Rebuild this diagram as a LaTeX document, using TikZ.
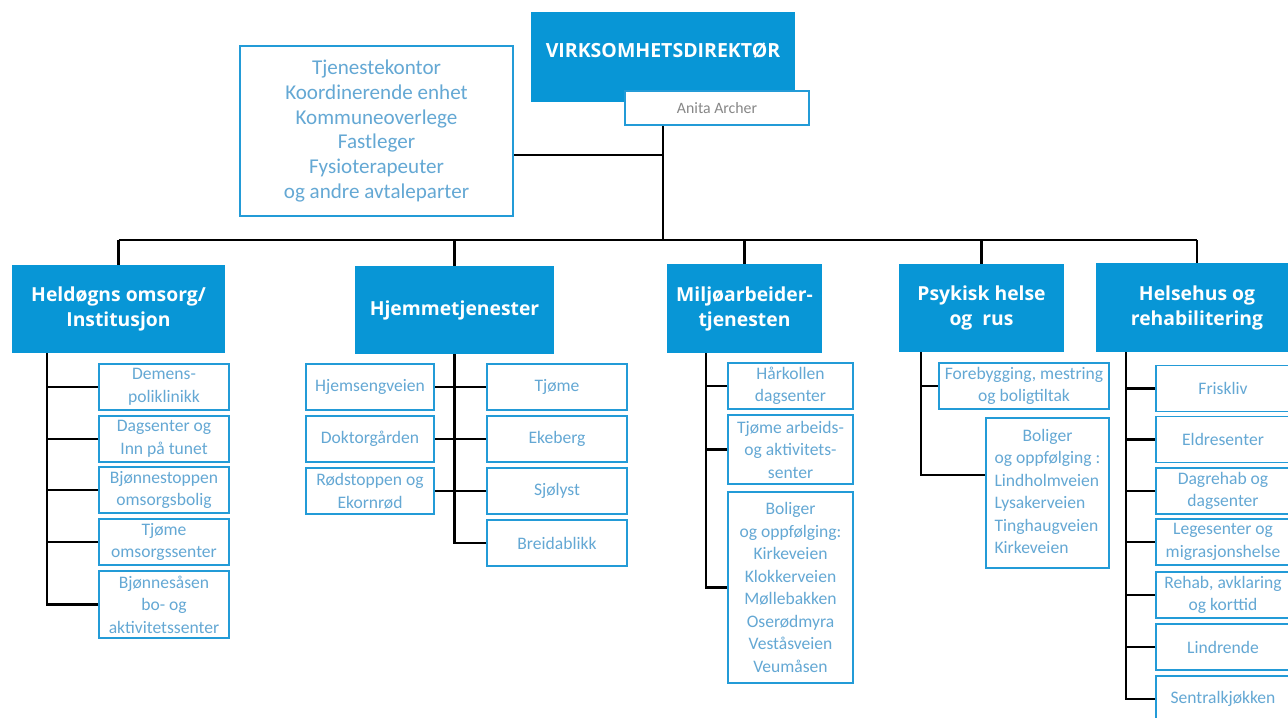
\documentclass[tikz,border=0pt]{standalone}
\usepackage{fontspec}
\setmainfont{Carlito}
\newfontfamily\headfont{Open Sans}
\usetikzlibrary{positioning,backgrounds,calc}
\definecolor{headblue}{RGB}{8,150,214}
\definecolor{lineblue}{RGB}{35,155,215}
\definecolor{txtblue}{RGB}{100,168,212}
\definecolor{namegrey}{RGB}{135,135,135}

\begin{document}
\begin{tikzpicture}[x=0.02cm,y=-0.02cm,
    head/.style={fill=headblue,text=white,align=center,inner sep=2pt,
      font=\headfont\bfseries\fontsize{11}{14.2}\selectfont},
    unit/.style={draw=lineblue,line width=1.1pt,fill=white,text=txtblue,align=center,
      inner sep=1pt,minimum height=0.92cm,font=\fontsize{10}{12.8}\selectfont},
    wire/.style={line width=1.3pt,black}]
  \useasboundingbox (0,0) rectangle (1288,717);

  % ledelse
  \node[head,minimum width=5.28cm,minimum height=1.8cm,text depth=0.28cm,
    font=\headfont\bfseries\fontsize{11.1}{13}\selectfont] (dir) at (663,57) {VIRKSOMHETSDIREKTØR};
  \node[unit,text=namegrey,minimum width=3.68cm,minimum height=0.68cm,
    font=\fontsize{9}{11}\selectfont] (name) at (717,108) {Anita Archer};
  \node[unit,minimum width=5.46cm,minimum height=3.4cm,font=\fontsize{12}{14.2}\selectfont] (staff) at (376.5,131)
    {Tjenestekontor\\Koordinerende enhet\\Kommuneoverlege\\Fastleger\\Fysioterapeuter\\og andre avtaleparter};
  \coordinate (bus) at (663,240);

  % tjenesteomraader
  \node[head,minimum width=4.26cm,minimum height=1.76cm] (held) at (118.5,309) {Heldøgns omsorg/\\Institusjon};
  \node[head,minimum width=3.98cm,minimum height=1.76cm] (hjem) at (454.5,310) {Hjemmetjenester};
  \node[head,minimum width=3.1cm,minimum height=1.78cm] (milj) at (744.5,308.5) {Miljøarbeider-\\tjenesten};
  \node[head,minimum width=3.3cm,minimum height=1.76cm] (psyk) at (981.5,308) {Psykisk helse\\og~ rus};
  \node[head,minimum width=4.04cm,minimum height=1.78cm] (helse) at (1197,307.5) {Helsehus og\\rehabilitering};

  % heldogns
  \node[unit,minimum width=2.6cm] (h1) at (164,387) {Demens-\\poliklinikk};
  \node[unit,minimum width=2.6cm] (h2) at (164,439) {Dagsenter og\\Inn på tunet};
  \node[unit,minimum width=2.6cm] (h3) at (164,490) {Bjønnestoppen\\omsorgsbolig};
  \node[unit,minimum width=2.6cm] (h4) at (164,542) {Tjøme\\omsorgssenter};
  \node[unit,minimum width=2.6cm,minimum height=1.34cm] (h5) at (164,604.5) {Bjønnesåsen\\bo- og\\aktivitetssenter};

  % hjemmetjenester
  \node[unit,minimum width=2.56cm] (jl1) at (370,387) {Hjemsengveien};
  \node[unit,minimum width=2.56cm] (jl2) at (370,439) {Doktorgården};
  \node[unit,minimum width=2.56cm] (jl3) at (370,491) {Rødstoppen og\\Ekornrød};
  \node[unit,minimum width=2.8cm] (jr1) at (557,387) {Tjøme};
  \node[unit,minimum width=2.8cm] (jr2) at (557,439) {Ekeberg};
  \node[unit,minimum width=2.8cm] (jr3) at (557,491) {Sjølyst};
  \node[unit,minimum width=2.8cm] (jr4) at (557,543) {Breidablikk};

  % miljoarbeidertjenesten
  \node[unit,minimum width=2.5cm] (m1) at (790.5,386) {Hårkollen\\dagsenter};
  \node[unit,minimum width=2.5cm,minimum height=1.38cm] (m2) at (790.5,449.5) {Tjøme arbeids-\\og aktivitets-\\senter};
  \node[unit,minimum width=2.5cm,minimum height=3.82cm] (m3) at (790.5,587.5)
    {Boliger\\og oppfølging:\\Kirkeveien\\Klokkerveien\\Møllebakken\\Oserødmyra\\Veståsveien\\Veumåsen};

  % psykisk helse
  \node[unit,minimum width=3.4cm] (p1) at (1024,386) {Forebygging, mestring\\og boligtiltak};
  \node[unit,minimum width=2.46cm,minimum height=3cm] (p2) at (1047.5,493)
    {\begin{tabular}{@{}l@{}}\multicolumn{1}{@{}c@{}}{Boliger}\\og oppfølging :\\Lindholmveien\\Lysakerveien\\Tinghaugveien\\Kirkeveien\end{tabular}};

  % helsehus
  \node[unit,minimum width=2.68cm] (s1) at (1223,388.5) {Friskliv};
  \node[unit,minimum width=2.68cm] (s2) at (1223,439.5) {Eldresenter};
  \node[unit,minimum width=2.68cm] (s3) at (1223,491) {Dagrehab og\\dagsenter};
  \node[unit,minimum width=2.68cm] (s4) at (1223,542) {Legesenter og\\migrasjonshelse};
  \node[unit,minimum width=2.68cm] (s5) at (1223,595) {Rehab, avklaring\\og korttid};
  \node[unit,minimum width=2.68cm] (s6) at (1223,647) {Lindrende};
  \node[unit,minimum width=2.68cm] (s7) at (1223,699) {Sentralkjøkken};

  \begin{scope}[on background layer]
    \draw[wire] (dir.south) -- (dir.south |- bus);
    \draw[wire] ([yshift=-0.48cm]staff.east) -- ([yshift=-0.48cm]staff.east -| dir.south);
    \draw[wire] (held.north |- bus) -- (helse.north |- bus);
    \foreach \h in {held,hjem,milj,psyk,helse}
      \draw[wire] (\h.north |- bus) -- (\h.north);

    \coordinate (heldT) at ([xshift=0.7cm]held.south west);
    \draw[wire] (heldT) |- (h5.west);
    \foreach \n in {h1,h2,h3,h4}
      \draw[wire] (\n.west) -- (\n.west -| heldT);

    \draw[wire] (hjem.south) |- (jr4.west);
    \foreach \i in {1,2,3}
      \draw[wire] (jl\i.east) -- (jr\i.west);

    \coordinate (miljT) at ([xshift=0.78cm]milj.south west);
    \draw[wire] (miljT) |- (m3.west);
    \foreach \n in {m1,m2}
      \draw[wire] (\n.west) -- (\n.west -| miljT);

    \coordinate (psykT) at ([xshift=0.44cm]psyk.south west);
    \draw[wire] (psykT) |- ([yshift=0.36cm]p2.west);
    \draw[wire] (p1.west) -- (p1.west -| psykT);

    \coordinate (helseT) at ([xshift=0.6cm]helse.south west);
    \draw[wire] (helseT) |- (s7.west);
    \foreach \n in {s1,s2,s3,s4,s5,s6}
      \draw[wire] (\n.west) -- (\n.west -| helseT);
  \end{scope}
\end{tikzpicture}
\end{document}
